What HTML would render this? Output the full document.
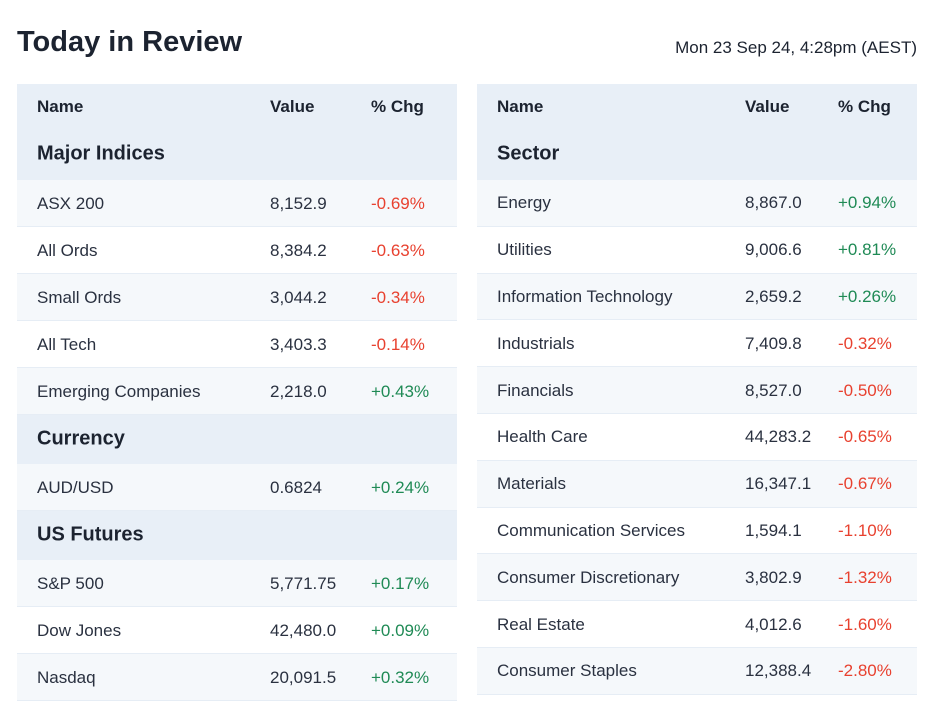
<!DOCTYPE html>
<html><head><meta charset="utf-8"><style>
body{margin:0;width:932px;height:706px;background:#fff;font-family:"Liberation Sans",sans-serif;color:#1c2330;position:relative;overflow:hidden}
.abs{position:absolute}
h1{position:absolute;left:17px;top:26px;margin:0;font-size:29px;font-weight:bold;letter-spacing:0px}
.date{position:absolute;right:15px;top:38px;font-size:17px}
.hdr{background:#e8eff7}
.row{border-bottom:1px solid #e6edf5;box-sizing:border-box}
.alt{background:#f5f8fb}
.t{position:absolute;font-size:17px;white-space:nowrap;transform:translateY(-50%)}
.row .t{color:#2a3140}
.b{font-weight:bold}
.sec{font-size:20px;font-weight:bold}
.row .neg{color:#e8412f}.row .pos{color:#1f8a55}
</style></head><body>
<h1>Today in Review</h1>
<div class="date">Mon 23 Sep 24, 4:28pm (AEST)</div>
<div id="root"></div>
<script>
const leftBlocks=[
 {type:'hdr',top:84,h:96,sec:'Major Indices'},
 {type:'row',name:'ASX 200',val:'8,152.9',chg:'-0.69%'},
 {type:'row',name:'All Ords',val:'8,384.2',chg:'-0.63%'},
 {type:'row',name:'Small Ords',val:'3,044.2',chg:'-0.34%'},
 {type:'row',name:'All Tech',val:'3,403.3',chg:'-0.14%'},
 {type:'row',name:'Emerging Companies',val:'2,218.0',chg:'+0.43%'},
 {type:'sec',sec:'Currency'},
 {type:'row',name:'AUD/USD',val:'0.6824',chg:'+0.24%'},
 {type:'sec',sec:'US Futures'},
 {type:'row',name:'S&P 500',val:'5,771.75',chg:'+0.17%'},
 {type:'row',name:'Dow Jones',val:'42,480.0',chg:'+0.09%'},
 {type:'row',name:'Nasdaq',val:'20,091.5',chg:'+0.32%'}
];
const rightBlocks=[
 {type:'hdr',top:84,h:96,sec:'Sector'},
 {type:'row',name:'Energy',val:'8,867.0',chg:'+0.94%'},
 {type:'row',name:'Utilities',val:'9,006.6',chg:'+0.81%'},
 {type:'row',name:'Information Technology',val:'2,659.2',chg:'+0.26%'},
 {type:'row',name:'Industrials',val:'7,409.8',chg:'-0.32%'},
 {type:'row',name:'Financials',val:'8,527.0',chg:'-0.50%'},
 {type:'row',name:'Health Care',val:'44,283.2',chg:'-0.65%'},
 {type:'row',name:'Materials',val:'16,347.1',chg:'-0.67%'},
 {type:'row',name:'Communication Services',val:'1,594.1',chg:'-1.10%'},
 {type:'row',name:'Consumer Discretionary',val:'3,802.9',chg:'-1.32%'},
 {type:'row',name:'Real Estate',val:'4,012.6',chg:'-1.60%'},
 {type:'row',name:'Consumer Staples',val:'12,388.4',chg:'-2.80%'}
];
const root=document.getElementById('root');
function txt(p,x,y,s,cls){const d=document.createElement('div');d.className='t '+(cls||'');d.style.left=x+'px';d.style.top=y+'px';d.textContent=s;p.appendChild(d);return d;}
function build(blocks,x0,w,cols,rowH,key){
 let y=84,alt=true;
 const tbl=document.createElement('div');
 
 
 root.appendChild(tbl);
 blocks.forEach(b=>{
  const el=document.createElement('div');el.className='abs';
  el.style.left=x0+'px';el.style.width=w+'px';el.style.top=y+'px';
  let h;
  if(b.type==='hdr'){h=96;el.classList.add('hdr');
   
   
   txt(el,cols[0],23,'Name','b');txt(el,cols[1],23,'Value','b');txt(el,cols[2],23,'% Chg','b');
   txt(el,cols[0],70,b.sec,'sec');alt=true;
  }else if(b.type==='sec'){h=49;el.classList.add('hdr');
   
   
   txt(el,cols[0],24,b.sec,'sec');alt=true;
  }else{h=rowH;el.classList.add('row');if(alt)el.classList.add('alt');alt=!alt;
   
   
   txt(el,cols[0],h/2,b.name);txt(el,cols[1],h/2,b.val);
   txt(el,cols[2],h/2,b.chg,b.chg[0]==='-'?'neg':'pos');
  }
  el.style.height=h+'px';tbl.appendChild(el);y+=h;
 });
}
build(leftBlocks,17,440,[20,253,354],47,'major-indices');
build(rightBlocks,477,440,[20,268,361],46.8,'sector');
</script>
</body></html>
